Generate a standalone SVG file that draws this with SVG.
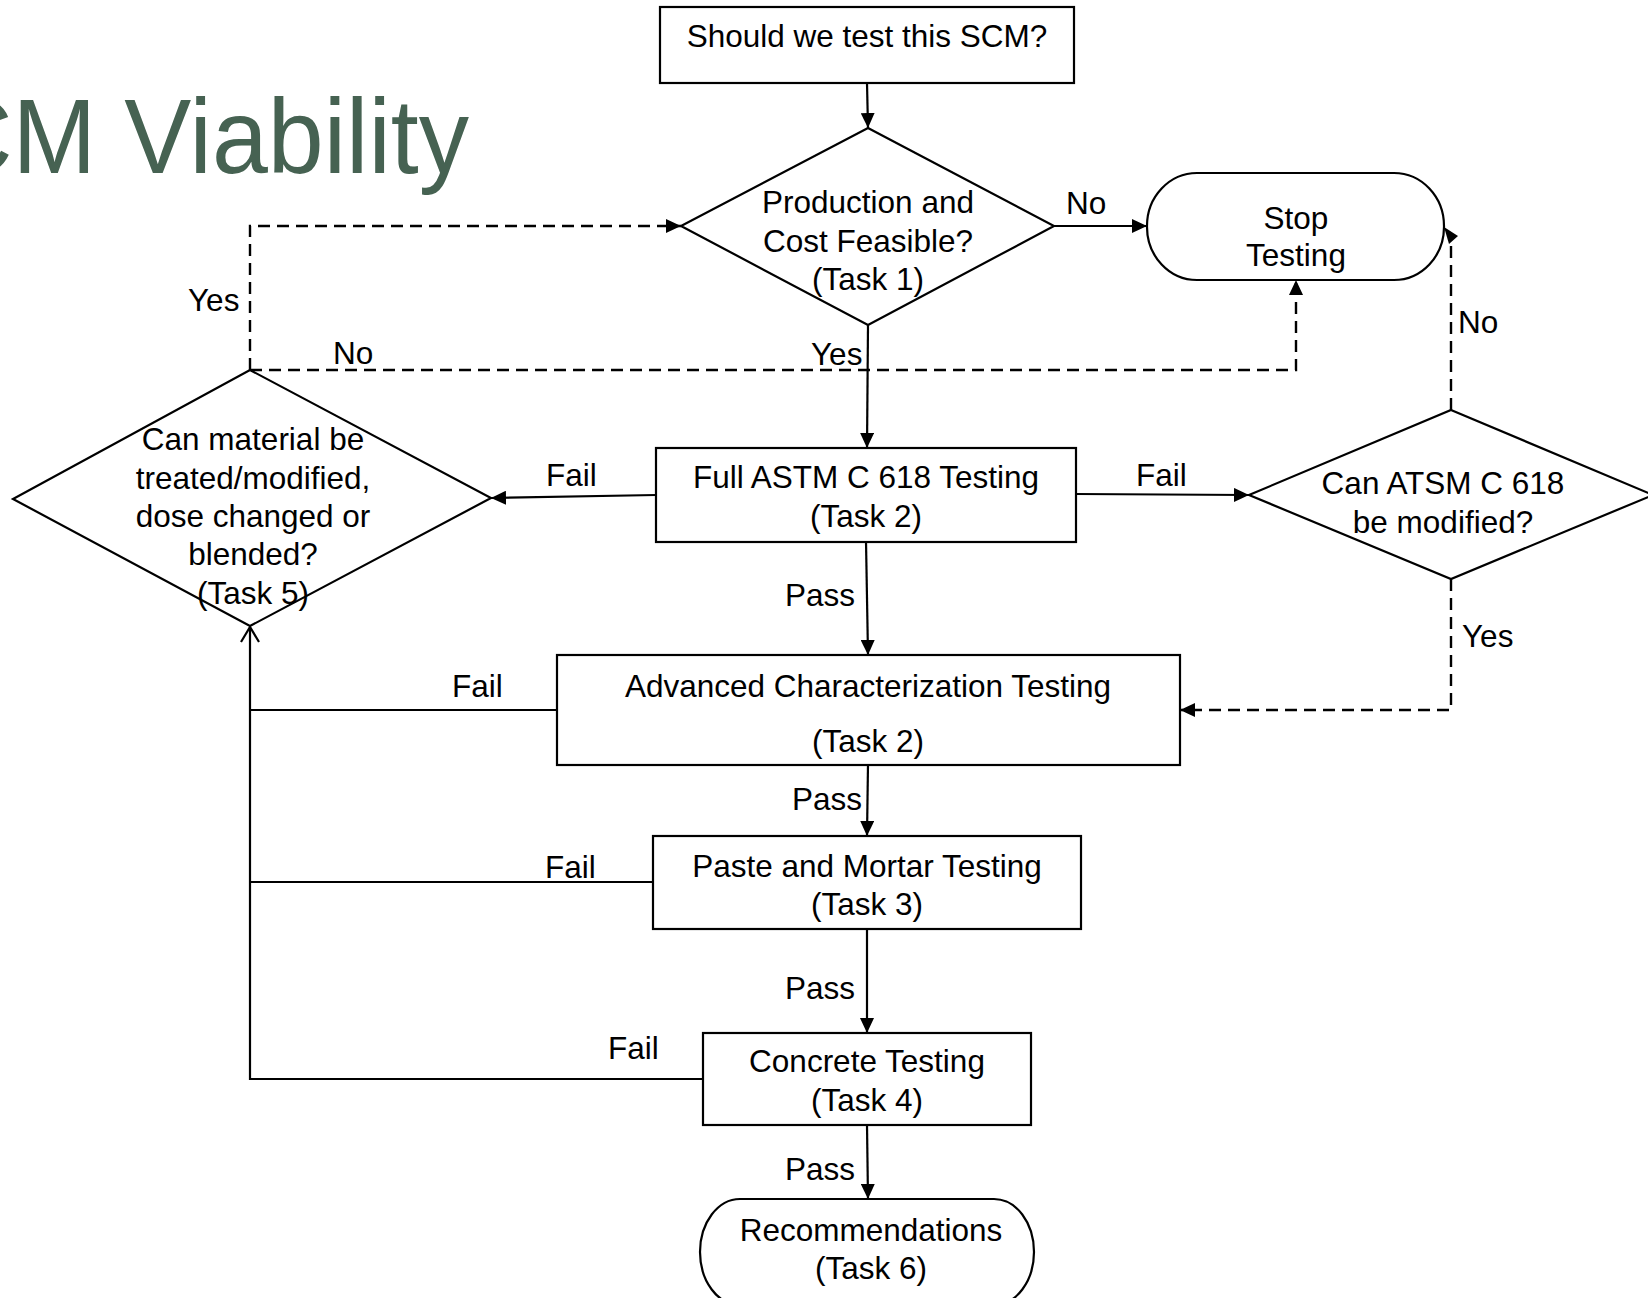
<svg xmlns="http://www.w3.org/2000/svg" width="1648" height="1298" viewBox="0 0 1648 1298">
  <style>
    .node { fill: #ffffff; stroke: #000000; stroke-width: 2.2; }
    .t { font-family: "Liberation Sans", Arial, sans-serif; font-size: 31.5px; fill: #000000; text-anchor: middle; }
    .lbl { font-family: "Liberation Sans", Arial, sans-serif; font-size: 31.5px; fill: #000000; }
    .c { fill: none; stroke: #000000; stroke-width: 2.2; }
    .d { fill: none; stroke: #000000; stroke-width: 2.4; stroke-dasharray: 12 7; }
    .title { font-family: "Liberation Sans", Arial, sans-serif; font-size: 106px; fill: #466252; }
  </style>
  <defs>
    <marker id="arr" markerUnits="userSpaceOnUse" markerWidth="16" markerHeight="14" refX="15" refY="7" orient="auto">
      <path d="M0,0 L15,7 L0,14 z" fill="#000000"/>
    </marker>
    <marker id="open" markerUnits="userSpaceOnUse" markerWidth="18" markerHeight="22" refX="16" refY="10" orient="auto">
      <path d="M1,1 L16,10 L1,19" fill="none" stroke="#000000" stroke-width="2.2"/>
    </marker>
  </defs>
  <rect width="1648" height="1298" fill="#ffffff"/>

  <text class="title" x="-60" y="173" textLength="529" lengthAdjust="spacingAndGlyphs">CM Viability</text>

  <g id="connectors">
    <path class="c" d="M867,83 L868,128" marker-end="url(#arr)"/>
    <path class="c" d="M1054,226 L1147,226" marker-end="url(#arr)"/>
    <path class="c" d="M868,325 L867,448" marker-end="url(#arr)"/>
    <path class="c" d="M656,495 L491,498" marker-end="url(#arr)"/>
    <path class="c" d="M1076,494 L1249,495" marker-end="url(#arr)"/>
    <path class="c" d="M866,541 L868,655" marker-end="url(#arr)"/>
    <path class="c" d="M868,764 L867,836" marker-end="url(#arr)"/>
    <path class="c" d="M867,929 L867,1033" marker-end="url(#arr)"/>
    <path class="c" d="M867,1125 L868,1199" marker-end="url(#arr)"/>
    <path class="c" d="M557,710 L250,710"/>
    <path class="c" d="M653,882 L250,882"/>
    <path class="c" d="M703,1079 L250,1079 L250,627" marker-end="url(#open)"/>
    <path class="d" d="M250,370 L250,226 L681,226" marker-end="url(#arr)"/>
    <path class="d" d="M250,370 L1296,370 L1296,280" marker-end="url(#arr)"/>
    <path class="d" d="M1451,410 L1451,244"/>
    <polygon points="1444,227 1458,236 1449,244" fill="#000000"/>
    <path class="d" d="M1451,579 L1451,710 L1180,710" marker-end="url(#arr)"/>
    <text class="lbl" x="1066" y="214">No</text>
    <text class="lbl" x="811" y="365">Yes</text>
    <text class="lbl" x="188" y="311">Yes</text>
    <text class="lbl" x="333" y="364">No</text>
    <text class="lbl" x="1458" y="333">No</text>
    <text class="lbl" x="546" y="486">Fail</text>
    <text class="lbl" x="1136" y="486">Fail</text>
    <text class="lbl" x="785" y="606">Pass</text>
    <text class="lbl" x="1462" y="647">Yes</text>
    <text class="lbl" x="452" y="697">Fail</text>
    <text class="lbl" x="792" y="810">Pass</text>
    <text class="lbl" x="545" y="878">Fail</text>
    <text class="lbl" x="785" y="999">Pass</text>
    <text class="lbl" x="608" y="1059">Fail</text>
    <text class="lbl" x="785" y="1180">Pass</text>
  </g>

  <g id="start">
    <rect class="node" x="660" y="7" width="414" height="76"/>
    <text class="t" x="867" y="47">Should we test this SCM?</text>
  </g>

  <g id="task1">
    <polygon class="node" points="868,128 1054,226 868,325 681,226"/>
    <text class="t" x="868" y="213">Production and</text>
    <text class="t" x="868" y="252">Cost Feasible?</text>
    <text class="t" x="868" y="290">(Task 1)</text>
  </g>

  <g id="stop">
    <rect class="node" x="1147" y="173" width="297" height="107" rx="50" ry="53"/>
    <text class="t" x="1296" y="229">Stop</text>
    <text class="t" x="1296" y="266">Testing</text>
  </g>

  <g id="task2full">
    <rect class="node" x="656" y="448" width="420" height="94"/>
    <text class="t" x="866" y="488">Full ASTM C 618 Testing</text>
    <text class="t" x="866" y="527">(Task 2)</text>
  </g>

  <g id="modify">
    <polygon class="node" points="1451,410 1653,495 1451,579 1249,495"/>
    <text class="t" x="1443" y="494">Can ATSM C 618</text>
    <text class="t" x="1443" y="533">be modified?</text>
  </g>

  <g id="task5">
    <polygon class="node" points="250,370 491,498 250,626 13,499"/>
    <text class="t" x="253" y="450">Can material be</text>
    <text class="t" x="253" y="489">treated/modified,</text>
    <text class="t" x="253" y="527">dose changed or</text>
    <text class="t" x="253" y="565">blended?</text>
    <text class="t" x="253" y="604">(Task 5)</text>
  </g>

  <g id="task2adv">
    <rect class="node" x="557" y="655" width="623" height="110"/>
    <text class="t" x="868" y="697">Advanced Characterization Testing</text>
    <text class="t" x="868" y="752">(Task 2)</text>
  </g>

  <g id="task3">
    <rect class="node" x="653" y="836" width="428" height="93"/>
    <text class="t" x="867" y="877">Paste and Mortar Testing</text>
    <text class="t" x="867" y="915">(Task 3)</text>
  </g>

  <g id="task4">
    <rect class="node" x="703" y="1033" width="328" height="92"/>
    <text class="t" x="867" y="1072">Concrete Testing</text>
    <text class="t" x="867" y="1111">(Task 4)</text>
  </g>

  <g id="task6">
    <rect class="node" x="700" y="1199" width="334" height="106" rx="40" ry="53"/>
    <text class="t" x="871" y="1241">Recommendations</text>
    <text class="t" x="871" y="1279">(Task 6)</text>
  </g>
</svg>
